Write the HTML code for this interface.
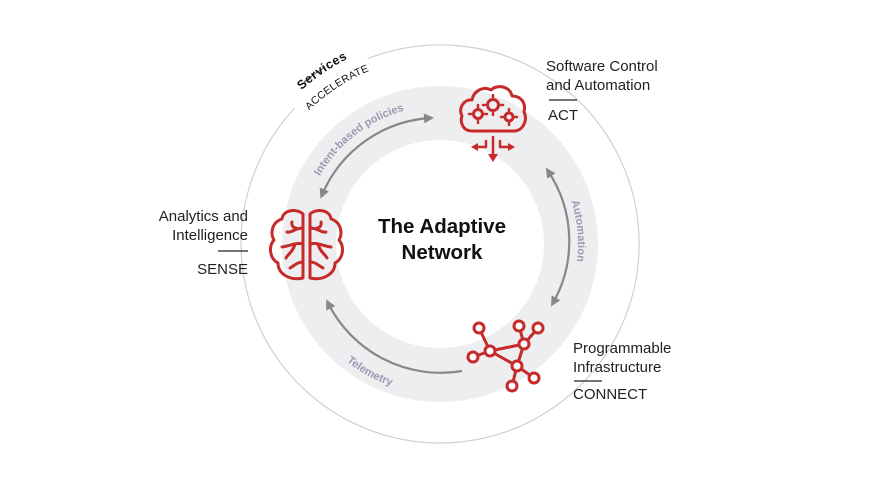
<!DOCTYPE html>
<html><head><style>
html,body{margin:0;padding:0;background:#fff;}
svg{display:block;}
</style></head><body>
<svg width="870" height="489" viewBox="0 0 870 489" xmlns="http://www.w3.org/2000/svg" font-family="Liberation Sans, sans-serif">
<defs>
<marker id="ah" viewBox="0 0 10 10" refX="6" refY="5" markerWidth="10" markerHeight="10" orient="auto-start-reverse" markerUnits="userSpaceOnUse">
<path d="M0,0 L10,5 L0,10 z" fill="#888"/>
</marker>
<path id="tTop" d="M302,244 A138,138 0 1 1 578,244"/>
<path id="tBot" d="M290,244 A150,150 0 0 0 590,244"/>
<path id="tSvc" d="M233,244 A207,207 0 1 1 647,244"/>
<path id="tAcc" d="M253,244 A187,187 0 1 1 627,244"/>
<path id="tAuto" d="M440,106 A138,138 0 0 1 440,382"/>
</defs>
<rect width="870" height="489" fill="#fff"/>
<path d="M 294.8,108 A199,199 0 1 0 367.7,58.6" fill="none" stroke="#cfcfd2" stroke-width="1.2"/>
<path d="M 304,82 A199,199 0 0 1 325,67" fill="none" stroke="#444" stroke-width="1"/>
<circle cx="440" cy="244" r="131" fill="none" stroke="#eeeef0" stroke-width="54"/>
<g fill="none" stroke="#888" stroke-width="2.2">
<path d="M322,195 A126,126 0 0 1 430,118" marker-start="url(#ah)" marker-end="url(#ah)"/>
<path d="M548,171 A126,126 0 0 1 553,303" marker-start="url(#ah)" marker-end="url(#ah)"/>
<path d="M462,371 A126,126 0 0 1 328,303" marker-end="url(#ah)"/>
</g>
<g fill="#9d97b0" font-size="11" font-weight="bold">
<text><textPath href="#tTop" startOffset="29%" text-anchor="middle">Intent-based policies</textPath></text>
<text><textPath href="#tAuto" startOffset="47%" text-anchor="middle">Automation</textPath></text>
<text><textPath href="#tBot" startOffset="34%" text-anchor="middle">Telemetry</textPath></text>
</g>
<g fill="#111">
<text font-size="12.5" font-weight="bold" letter-spacing="0.6"><textPath href="#tSvc" startOffset="31%" text-anchor="middle">Services</textPath></text>
<text font-size="10.5" letter-spacing="0.3"><textPath href="#tAcc" startOffset="31.5%" text-anchor="middle">ACCELERATE</textPath></text>
</g>
<text x="442" y="233" text-anchor="middle" font-size="20.5" font-weight="bold" fill="#111">The Adaptive</text>
<text x="442" y="259" text-anchor="middle" font-size="20.5" font-weight="bold" fill="#111">Network</text>
<g font-size="15" fill="#222">
<text x="546" y="71">Software Control</text>
<text x="546" y="90">and Automation</text>
<line x1="549" y1="100" x2="577" y2="100" stroke="#222" stroke-width="1.3"/>
<text x="548" y="120">ACT</text>
<text x="248" y="221" text-anchor="end">Analytics and</text>
<text x="248" y="240" text-anchor="end">Intelligence</text>
<line x1="218" y1="251" x2="248" y2="251" stroke="#222" stroke-width="1.3"/>
<text x="248" y="274" text-anchor="end">SENSE</text>
<text x="573" y="353">Programmable</text>
<text x="573" y="372">Infrastructure</text>
<line x1="574" y1="381" x2="602" y2="381" stroke="#222" stroke-width="1.3"/>
<text x="573" y="399">CONNECT</text>
</g>
<g fill="none" stroke="#c62a2a" stroke-width="3" stroke-linecap="round" stroke-linejoin="round">
<path d="M303,214 C296,208 283,210 282,219 C272,222 270,233 274,240 C268,247 270,259 278,263 C278,274 290,281 303,278 Z"/>
<path d="M310,214 C317,208 330,210 331,219 C341,222 343,233 339,240 C345,247 343,259 335,263 C335,274 323,281 310,278 Z"/>
<path d="M303,228 C295,228 292,233 287,232 M303,244 C296,242 290,246 282,247 M295,244 C293,252 288,254 286,258 M303,262 C297,262 294,266 290,268 M292,222 C291,226 294,228 296,228"/>
<path d="M310,228 C318,228 321,233 326,232 M310,244 C317,242 323,246 331,247 M318,244 C320,252 325,254 327,258 M310,262 C316,262 319,266 323,268 M321,222 C322,226 319,228 317,228"/>
</g>
<g fill="none" stroke="#c62a2a" stroke-width="3" stroke-linejoin="round" stroke-linecap="round">
<path d="M472,131 C462,131 460,121 462,116 C458,108 464,99 472,100 C474,90 484,86 491,90 C497,84 510,86 512,96 C522,96 526,104 524,112 C528,120 523,131 514,131 Z"/>
<circle cx="478" cy="114" r="4.5"/>
<circle cx="493" cy="105" r="5.5"/>
<circle cx="509" cy="117" r="4"/>
<path d="M478,107 v-2 M478,121 v2 M471,114 h-2 M485,114 h2 M493,97 v-2 M493,113 v2 M485,105 h-2 M501,105 h2 M509,111 v-2 M509,123 v2 M503,117 h-2 M515,117 h2" stroke-width="2.5"/>
<path d="M493,137 v18 M486,141 v6 h-10 M500,141 v6 h10" stroke-width="2.5"/>
</g>
<g fill="#c62a2a">
<path d="M488,154 h10 l-5,8 z"/>
<path d="M478,143 v8 l-7,-4 z"/>
<path d="M508,143 v8 l7,-4 z"/>
</g>
<g stroke="#c62a2a" stroke-width="3" fill="#fff">
<path d="M479,328 L490,351 M473,357 L490,351 M490,351 L524,344 M490,351 L517,366 M524,344 L517,366 M519,326 L524,344 M538,328 L524,344 M517,366 L512,386 M517,366 L534,378" fill="none"/>
<circle cx="479" cy="328" r="5"/>
<circle cx="519" cy="326" r="5"/>
<circle cx="538" cy="328" r="5"/>
<circle cx="473" cy="357" r="5"/>
<circle cx="490" cy="351" r="5"/>
<circle cx="524" cy="344" r="5"/>
<circle cx="517" cy="366" r="5"/>
<circle cx="512" cy="386" r="5"/>
<circle cx="534" cy="378" r="5"/>
</g>
</svg>
</body></html>
